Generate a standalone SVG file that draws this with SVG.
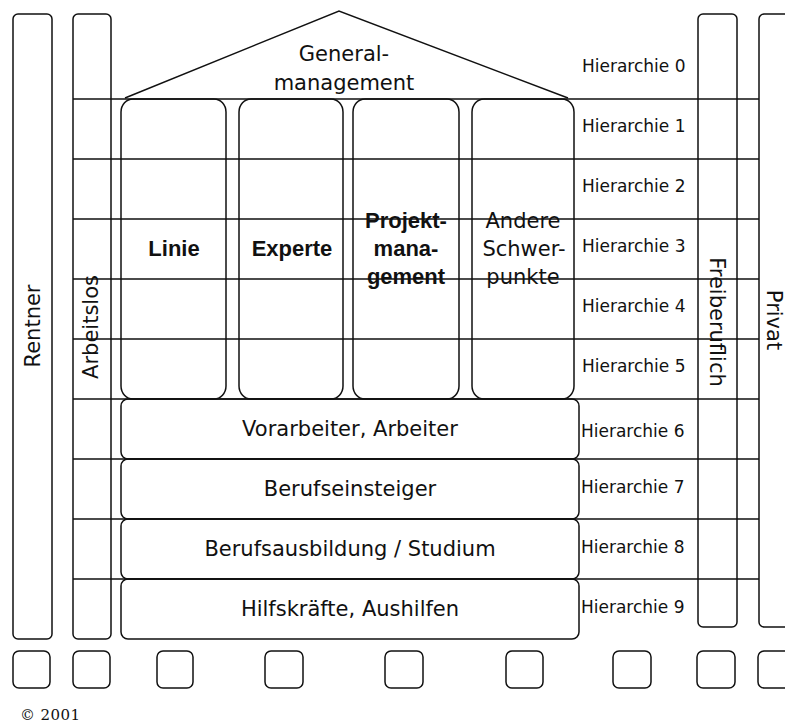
<svg xmlns="http://www.w3.org/2000/svg" width="785" height="723" viewBox="0 0 785 723">
<style>
.ln{fill:none;stroke:#111;stroke-width:1.5}
.t{font-family:"DejaVu Sans",sans-serif;fill:#111;font-size:21px;text-anchor:middle}
.h{font-family:"DejaVu Sans",sans-serif;fill:#111;font-size:17px}
.b{font-family:"Liberation Sans",Arial,sans-serif;font-weight:bold;fill:#111;font-size:22px;text-anchor:middle}
</style>
<rect width="785" height="723" fill="#fff"/>
<g id="grid">
<path class="ln" d="M73 99H759M73 159H759M73 219H759M73 279H759M73 339H759M73 399H759M73 459H759M73 519H759M73 579H759"/>
</g>
<g id="roof">
<polyline class="ln" points="125,98 339,11 568,98"/>
<text class="t" x="344" y="61">General-</text>
<text class="t" x="344" y="90">management</text>
</g>
<g id="rentner">
<rect class="ln" x="13" y="14" width="39" height="625" rx="5"/>
<text class="t" font-size="22" transform="translate(40,326) rotate(-90)">Rentner</text>
</g>
<g id="arbeitslos">
<rect class="ln" x="73" y="14" width="38" height="625" rx="5"/>
<text class="t" font-size="22" transform="translate(98,327) rotate(-90)">Arbeitslos</text>
</g>
<g id="freiberuflich">
<rect class="ln" x="698" y="14" width="39" height="613" rx="5"/>
<text class="t" transform="translate(710,322) rotate(90)">Freiberuflich</text>
</g>
<g id="privat">
<rect class="ln" x="759" y="14" width="40" height="613" rx="5"/>
<text class="t" transform="translate(767,320) rotate(90)">Privat</text>
</g>
<g id="linie">
<rect class="ln" x="121" y="99" width="105" height="300" rx="12" ry="13"/>
<text class="b" x="174" y="256">Linie</text>
</g>
<g id="experte">
<rect class="ln" x="239" y="99" width="104" height="300" rx="12" ry="13"/>
<text class="b" x="292" y="256">Experte</text>
</g>
<g id="projektmanagement">
<rect class="ln" x="353" y="99" width="106" height="300" rx="12" ry="13"/>
<text class="b" x="406" y="228">Projekt-</text>
<text class="b" x="406" y="256">mana-</text>
<text class="b" x="406" y="284">gement</text>
</g>
<g id="andere">
<rect class="ln" x="472" y="99" width="102" height="300" rx="12" ry="13"/>
<text class="t" font-size="22" x="523" y="228">Andere</text>
<text class="t" font-size="22" x="524" y="256">Schwer-</text>
<text class="t" font-size="22" x="523" y="284">punkte</text>
</g>
<g id="vorarbeiter">
<rect class="ln" x="121" y="399" width="458" height="60" rx="7"/>
<text class="t" x="350" y="436">Vorarbeiter, Arbeiter</text>
</g>
<g id="berufseinsteiger">
<rect class="ln" x="121" y="459" width="458" height="60" rx="7"/>
<text class="t" x="350" y="496">Berufseinsteiger</text>
</g>
<g id="berufsausbildung">
<rect class="ln" x="121" y="519" width="458" height="60" rx="7"/>
<text class="t" x="350" y="556">Berufsausbildung / Studium</text>
</g>
<g id="hilfskraefte">
<rect class="ln" x="121" y="579" width="458" height="60" rx="7"/>
<text class="t" x="350" y="616">Hilfskräfte, Aushilfen</text>
</g>
<g id="hierarchie">
<text class="h" x="582" y="72">Hierarchie 0</text>
<text class="h" x="582" y="132">Hierarchie 1</text>
<text class="h" x="582" y="192">Hierarchie 2</text>
<text class="h" x="582" y="252">Hierarchie 3</text>
<text class="h" x="582" y="312">Hierarchie 4</text>
<text class="h" x="582" y="372">Hierarchie 5</text>
<text class="h" x="581" y="437">Hierarchie 6</text>
<text class="h" x="581" y="493">Hierarchie 7</text>
<text class="h" x="581" y="553">Hierarchie 8</text>
<text class="h" x="581" y="613">Hierarchie 9</text>
</g>
<g id="footboxes">
<rect class="ln" x="13" y="651" width="37" height="37" rx="6"/>
<rect class="ln" x="73" y="651" width="37" height="37" rx="6"/>
<rect class="ln" x="157" y="651" width="36" height="37" rx="6"/>
<rect class="ln" x="265" y="651" width="38" height="37" rx="6"/>
<rect class="ln" x="385" y="651" width="38" height="37" rx="6"/>
<rect class="ln" x="506" y="651" width="37" height="37" rx="6"/>
<rect class="ln" x="613" y="651" width="38" height="37" rx="6"/>
<rect class="ln" x="697" y="651" width="38" height="37" rx="6"/>
<rect class="ln" x="758" y="651" width="40" height="37" rx="6"/>
</g>
<g id="copyright">
<text x="20" y="720" font-family="'DejaVu Serif',serif" font-size="15" fill="#111" textLength="60" lengthAdjust="spacing">© 2001</text>
</g>
</svg>
